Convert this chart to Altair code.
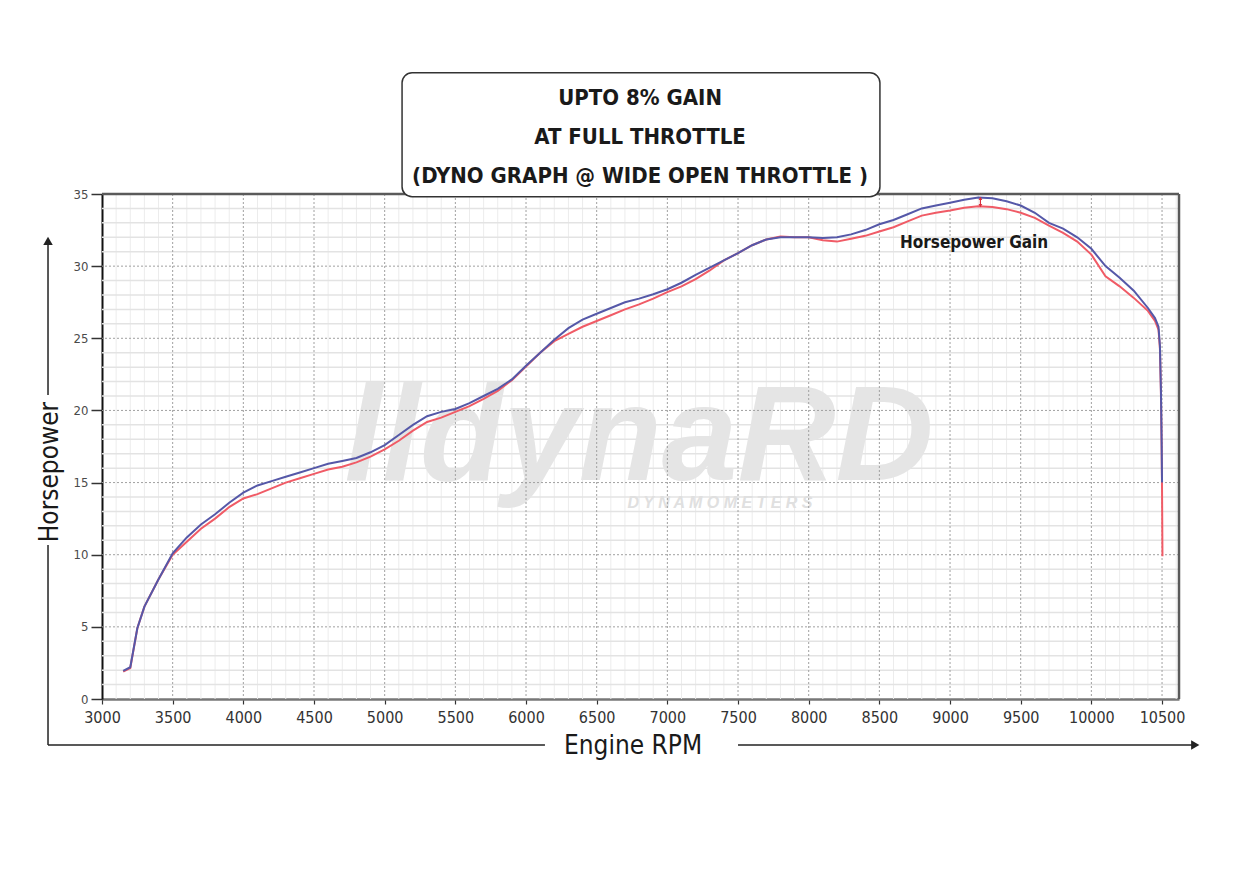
# Dyno graph (Altair) - stock vs tuned horsepower over engine RPM
import pandas as pd
import altair as alt

# ------------------------------------------------------------
# 1) Data (read off the dyno sheet)
# ------------------------------------------------------------
x_ticks = list(range(3000, 10501, 500))
y_ticks = [0, 5, 10, 15, 20, 25, 30, 35]
x_minor = [v for v in range(3100, 10601, 100) if v % 500]
y_minor = [v for v in range(1, 35) if v % 5]
x_major = x_ticks[1:]
y_major = [5, 10, 15, 20, 25, 30]

rpm_tuned = [3150, 3200, 3250, 3300, 3400, 3500, 3600, 3700, 3800, 3900,
             4000, 4100, 4200, 4300, 4400, 4500, 4600, 4700, 4800, 4900,
             5000, 5100, 5200, 5300, 5400, 5500, 5600, 5700, 5800, 5900,
             6000, 6100, 6200, 6300, 6400, 6500, 6600, 6700, 6800, 6900,
             7000, 7100, 7200, 7300, 7400, 7500, 7600, 7700, 7800, 7900,
             8000, 8100, 8200, 8300, 8400, 8500, 8600, 8700, 8800, 8900,
             9000, 9100, 9200, 9300, 9400, 9500, 9600, 9700, 9800, 9900,
             10000, 10100, 10200, 10300, 10400, 10450, 10475, 10485, 10492,
             10497, 10500]
hp_tuned = [1.95, 2.2, 4.9, 6.4, 8.3, 10.1, 11.2, 12.1, 12.8, 13.6,
            14.3, 14.8, 15.1, 15.4, 15.7, 16.0, 16.3, 16.5, 16.7, 17.1,
            17.6, 18.3, 19.0, 19.6, 19.9, 20.1, 20.5, 21.0, 21.5, 22.15,
            23.1, 24.0, 24.9, 25.7, 26.3, 26.7, 27.1, 27.5, 27.75, 28.05,
            28.4, 28.85, 29.4, 29.9, 30.4, 30.9, 31.45, 31.85, 32.0, 32.0,
            32.0, 31.95, 32.0, 32.2, 32.5, 32.9, 33.2, 33.6, 34.0, 34.2,
            34.4, 34.6, 34.75, 34.7, 34.5, 34.2, 33.7, 33.0, 32.6, 32.0,
            31.2, 30.0, 29.2, 28.3, 27.1, 26.4, 25.8, 24.5, 21.5,
            18.0, 15.0]

rpm_stock = rpm_tuned + [10503]
hp_stock = [1.9, 2.15, 4.9, 6.4, 8.3, 10.0, 10.9, 11.8, 12.5, 13.3,
            13.9, 14.2, 14.6, 15.0, 15.3, 15.6, 15.9, 16.1, 16.4, 16.8,
            17.3, 17.9, 18.6, 19.2, 19.5, 19.9, 20.3, 20.8, 21.35, 22.1,
            23.05, 24.0, 24.8, 25.3, 25.8, 26.2, 26.6, 27.0, 27.35, 27.75,
            28.2, 28.6, 29.1, 29.7, 30.4, 30.9, 31.45, 31.85, 32.05, 32.0,
            32.0, 31.8, 31.7, 31.9, 32.1, 32.4, 32.7, 33.1, 33.5, 33.7,
            33.85, 34.05, 34.15, 34.1, 33.95, 33.7, 33.35, 32.8, 32.3, 31.7,
            30.8, 29.3, 28.6, 27.8, 26.9, 26.2, 25.6, 24.3, 21.3,
            17.5, 14.5, 9.9]

title_lines = ["UPTO 8% GAIN", "AT FULL THROTTLE", "(DYNO GRAPH @ WIDE OPEN THROTTLE )"]

NARROW = "Liberation Sans Narrow, Arial Narrow, DejaVu Sans Condensed, Liberation Sans, sans-serif"
RED = "#f05b66"
BLUE = "#5558a8"

# ------------------------------------------------------------
# 2) Scales and shared axes
# ------------------------------------------------------------
xs = alt.Scale(domain=[3000, 10620], nice=False, zero=False)
ys = alt.Scale(domain=[0, 35], nice=False)

x_axis = alt.Axis(values=x_ticks, format="d", grid=False, title=None, domainColor="#777",
                  domainWidth=2.5, tickColor="#333", tickSize=5, tickWidth=1.2, labelFont=NARROW,
                  labelFontSize=16, labelColor="#333", labelPadding=5, labelFlush=False)
y_axis = alt.Axis(values=y_ticks, format="d", grid=False, title=None, domainColor="#111",
                  domainWidth=2, tickColor="#333", tickSize=11, tickWidth=1.5, labelFont=NARROW,
                  labelFontSize=13, labelColor="#4a4a4a", labelPadding=3)

def X(f="x"):
    return alt.X(f"{f}:Q", scale=xs, axis=x_axis)

def Y(f="y"):
    return alt.Y(f"{f}:Q", scale=ys, axis=y_axis)

# ------------------------------------------------------------
# 3) Layers
# ------------------------------------------------------------
# minor grid
minor_v = alt.Chart(pd.DataFrame({"x": x_minor})).mark_rule(
    color="#ececec", strokeWidth=1).encode(x=X())
minor_h = alt.Chart(pd.DataFrame({"y": y_minor})).mark_rule(
    color="#e3e3e3", strokeWidth=1.5).encode(y=Y())

# watermark
wm = alt.Chart(pd.DataFrame({"x": [6800], "y": [15.2], "t": ["lldynaRD"]})).mark_text(
    font="Liberation Sans", fontWeight="bold", fontStyle="italic", fontSize=136,
    color="#e5e5e5", baseline="alphabetic", align="center"
).encode(x=X(), y=Y(), text="t:N")
wm2 = alt.Chart(pd.DataFrame({"x": [7373], "y": [13.6],
                              "t": ["D     Y     N     A     M     O     M     E     T     E     R     S"]})).mark_text(
    font="Liberation Sans", fontWeight="bold", fontStyle="italic", fontSize=16,
    color="#e0e0e0", baseline="middle", align="center"
).encode(x=X(), y=Y(), text="t:N")

# major grid (dashed)
major_v = alt.Chart(pd.DataFrame({"x": x_major})).mark_rule(
    color="#a0a0a0", strokeWidth=1, strokeDash=[2, 2]).encode(x=X())
major_h = alt.Chart(pd.DataFrame({"y": y_major})).mark_rule(
    color="#a0a0a0", strokeWidth=1, strokeDash=[2, 2]).encode(y=Y())

# top / right frame
frame_top = alt.Chart(pd.DataFrame({"y": [35]})).mark_rule(
    color="#5a5a5a", strokeWidth=2.5).encode(y=Y())
frame_right = alt.Chart(pd.DataFrame({"x": [10620]})).mark_rule(
    color="#5a5a5a", strokeWidth=2.5).encode(x=X())

# curves
stock = alt.Chart(pd.DataFrame({"x": rpm_stock, "y": hp_stock})).mark_line(
    color=RED, strokeWidth=2).encode(x=X(), y=Y())
tuned = alt.Chart(pd.DataFrame({"x": rpm_tuned, "y": hp_tuned})).mark_line(
    color=BLUE, strokeWidth=2).encode(x=X(), y=Y())

# horsepower gain marker
gain_df = pd.DataFrame({"x": [9215], "y": [34.2], "y2": [34.7]})
gain_rule = alt.Chart(gain_df).mark_rule(color="#d9303c", strokeWidth=1.2).encode(
    x=X(), y=Y(), y2="y2:Q")
gain_up = alt.Chart(gain_df).mark_point(shape="triangle-up", filled=True, size=14,
                                        color="#d9303c", opacity=1).encode(x=X(), y=Y("y2"))
gain_dn = alt.Chart(gain_df).mark_point(shape="triangle-down", filled=True, size=14,
                                        color="#d9303c", opacity=1).encode(x=X(), y=Y())
gain_txt = alt.Chart(pd.DataFrame({"x": [9170], "y": [31.6], "t": ["Horsepower Gain"]})).mark_text(
    font=NARROW, fontWeight="bold", fontSize=17, color="#1a1a1a", baseline="middle"
).encode(x=X(), y=Y(), text="t:N")

# title box
box = alt.Chart(pd.DataFrame({"x": [5123], "x2": [8504], "y": [43.4], "y2": [34.81]})).mark_rect(
    fill="white", stroke="#333", strokeWidth=1.5, cornerRadius=10
).encode(x=X(), x2="x2:Q", y=Y(), y2="y2:Q")
box_txt = alt.Chart(pd.DataFrame({"x": [6807] * 3, "y": [41.65, 38.95, 36.24], "t": title_lines})).mark_text(
    font=NARROW, fontWeight="bold", fontSize=22, color="#1a1a1a", baseline="middle"
).encode(x=X(), y=Y(), text="t:N")

# axis captions with arrows
cap = alt.Chart(pd.DataFrame({"x": [2632, 6757], "y": [15.73, -3.26],
                              "t": ["Horsepower", "Engine RPM"], "a": [270, 0]})).mark_text(
    font=NARROW, fontSize=26, color="#1a1a1a", baseline="middle"
).encode(x=X(), y=Y(), text="t:N", angle=alt.Angle("a:Q", scale=None))

arrow_v = alt.Chart(pd.DataFrame({"x": [2618, 2618], "y": [-3.19, 21.07], "y2": [10.67, 31.8]})).mark_rule(
    color="#222", strokeWidth=1.5).encode(x=X(), y=Y(), y2="y2:Q")
arrow_h = alt.Chart(pd.DataFrame({"x": [2618, 7500], "x2": [6134, 10720], "y": [-3.19, -3.19]})).mark_rule(
    color="#222", strokeWidth=1.5).encode(x=X(), x2="x2:Q", y=Y())
head_up = alt.Chart(pd.DataFrame({"x": [2618], "y": [31.75]})).mark_point(
    shape="triangle-up", filled=True, size=90, color="#222", opacity=1).encode(x=X(), y=Y())
head_rt = alt.Chart(pd.DataFrame({"x": [10735], "y": [-3.19]})).mark_point(
    shape="triangle-right", filled=True, size=90, color="#222", opacity=1).encode(x=X(), y=Y())

chart = alt.layer(
    minor_v, minor_h, wm, wm2, major_v, major_h, frame_top, frame_right,
    stock, tuned, gain_rule, gain_up, gain_dn, gain_txt,
    box, box_txt, cap, arrow_v, arrow_h, head_up, head_rt
).properties(
    width=1077, height=505,
    autosize=alt.AutoSizeParams(type="none"),
    padding={"left": 94, "top": 186, "right": 52, "bottom": 160},
).configure_view(stroke=None).configure(background="white")

chart.save("out.html", embed_options={"renderer": "svg", "actions": False})
